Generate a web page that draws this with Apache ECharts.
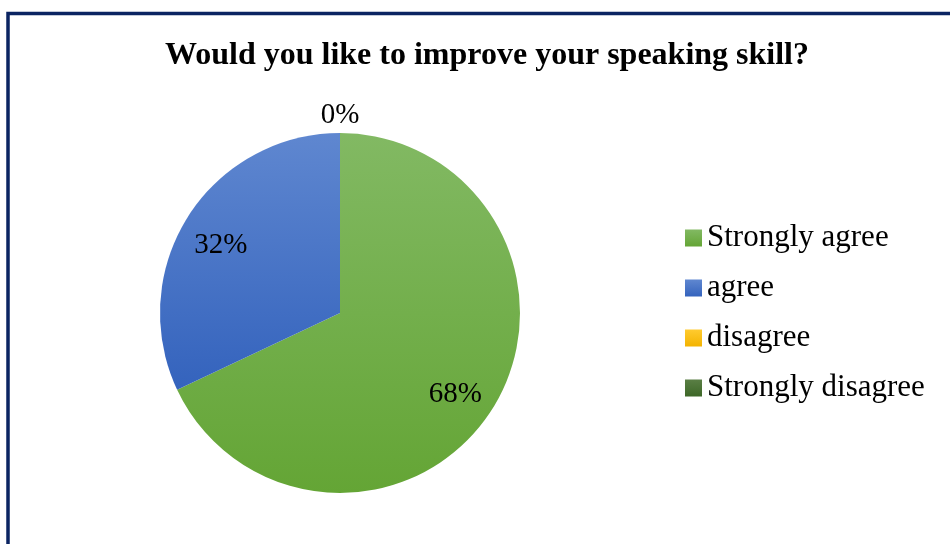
<!DOCTYPE html>
<html>
<head>
<meta charset="utf-8">
<script src="https://cdn.jsdelivr.net/npm/echarts@6/dist/echarts.min.js"></script>
<style>
  html, body { margin: 0; padding: 0; background: #ffffff; }
  #chart { width: 950px; height: 544px; }
</style>
</head>
<body>
<div id="chart"></div>
<script>
// Survey answers and their shares (percent)
const categories = ['Strongly agree', 'agree', 'disagree', 'Strongly disagree'];
const percentages = [68, 32, 0, 0];

// Fill palette: light top / darker bottom for each answer
const topColors = ['#82b963', '#5f87d0', '#ffcb30', '#5a7f45'];
const bottomColors = ['#64a535', '#3463bd', '#f3b300', '#3d6727'];

const titleText = 'Would you like to improve your speaking skill?';
const serif = '"Liberation Serif", "Times New Roman", serif';

function fill(i) {
  return new echarts.graphic.LinearGradient(0, 0, 0, 1, [
    { offset: 0, color: topColors[i] },
    { offset: 1, color: bottomColors[i] }
  ]);
}

const center = [340, 313];
const outerR = 180;

// Slices
const sliceData = categories.map((name, i) => ({
  name: name,
  value: percentages[i],
  itemStyle: { color: fill(i) }
}));

// Value labels for non-empty slices, placed in a ring well inside the pie
const innerLabelData = categories.map((name, i) => ({
  name: name,
  value: percentages[i],
  label: { show: percentages[i] > 0 }
}));

// A single label for the empty answers, just above the pie
const firstZero = percentages.indexOf(0);
const outerLabelData = categories.map((name, i) => ({
  name: name,
  value: percentages[i],
  label: { show: i === firstZero }
}));

const labelText = {
  fontFamily: serif,
  fontSize: 29,
  color: '#000000',
  formatter: '{c}%'
};

const chart = echarts.init(document.getElementById('chart'), null, { renderer: 'canvas' });

chart.setOption({
  backgroundColor: '#ffffff',
  animation: false,
  title: {
    text: titleText,
    left: 482,
    textAlign: 'center',
    top: 35,
    textStyle: {
      fontFamily: serif,
      fontWeight: 'bold',
      fontSize: 32,
      color: '#000000'
    }
  },
  legend: {
    orient: 'vertical',
    left: 685,
    top: 222,
    padding: 0,
    data: categories,
    icon: 'rect',
    itemWidth: 17,
    itemHeight: 17,
    itemGap: 18,
    selectedMode: false,
    textStyle: {
      fontFamily: serif,
      fontSize: 31,
      lineHeight: 32,
      color: '#000000'
    }
  },
  graphic: [{
    type: 'rect',
    silent: true,
    shape: { x: 8, y: 13.5, width: 1000, height: 600 },
    style: { fill: 'none', stroke: '#0b2462', lineWidth: 3.5 },
    z: 10
  }],
  series: [
    {
      type: 'pie',
      center: center,
      radius: [0, outerR],
      startAngle: 90,
      clockwise: true,
      silent: true,
      label: { show: false },
      labelLine: { show: false },
      itemStyle: { borderWidth: 0 },
      emphasis: { disabled: true },
      data: sliceData
    },
    {
      type: 'pie',
      center: center,
      radius: [outerR * 0.51, outerR],
      startAngle: 90,
      clockwise: true,
      silent: true,
      itemStyle: { color: 'transparent', borderWidth: 0 },
      label: Object.assign({ position: 'inside', offset: [-2, 7] }, labelText),
      labelLine: { show: false },
      emphasis: { disabled: true },
      data: innerLabelData
    },
    {
      type: 'pie',
      center: center,
      radius: [outerR + 10, outerR + 30],
      startAngle: 90,
      clockwise: true,
      silent: true,
      itemStyle: { color: 'transparent', borderWidth: 0 },
      label: Object.assign({ position: 'inside', offset: [0, 5] }, labelText),
      labelLine: { show: false },
      emphasis: { disabled: true },
      data: outerLabelData
    }
  ]
});
</script>
</body>
</html>
